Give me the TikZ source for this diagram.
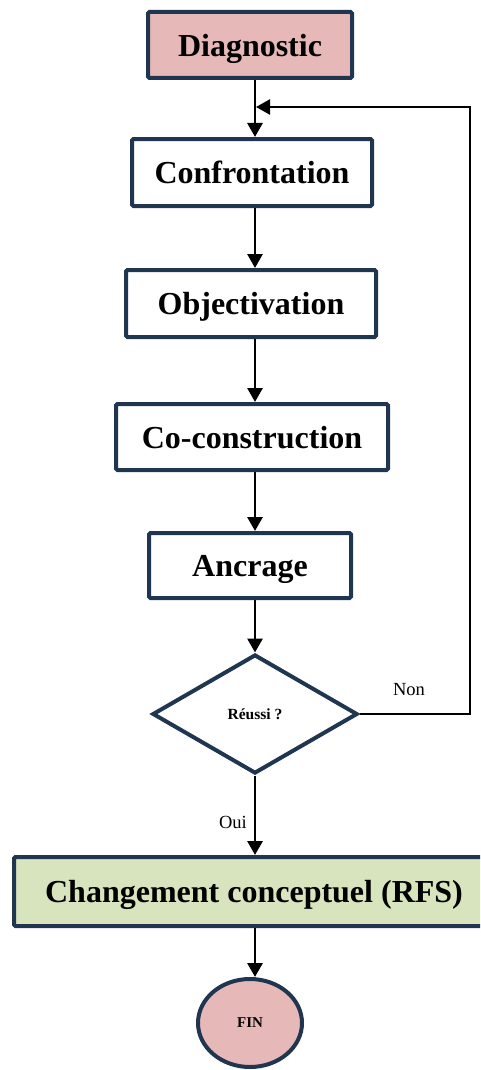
\documentclass[tikz,border=0pt]{standalone}
\usepackage{fontspec}
\setmainfont{Liberation Serif}
\usetikzlibrary{shapes.geometric,arrows.meta}
\definecolor{navy}{HTML}{1F3550}
\definecolor{pinkfill}{HTML}{E6B8B7}
\definecolor{greenfill}{HTML}{D7E4BD}
\tikzset{
  stepbox/.style={draw=navy, line width=4pt, rounded corners=1.5pt, fill=white, inner sep=0pt,
    text depth=0pt, font=\fontsize{32}{38}\selectfont\bfseries, text=black},
  decision/.style={draw=navy, line width=4pt, diamond, fill=white, inner sep=0pt,
    minimum width=205pt, minimum height=119pt, font=\fontsize{15.5}{18}\selectfont\bfseries},
  finnode/.style={draw=navy, line width=4pt, ellipse, fill=pinkfill, inner sep=0pt,
    minimum width=104pt, minimum height=88pt, font=\fontsize{15}{18}\selectfont\bfseries},
  flow/.style={draw=black, line width=2.9pt, -{Triangle[length=14pt,width=15pt]}},
  lab/.style={font=\fontsize{18.5}{22}\selectfont, text=black},
}
\begin{document}
\begin{tikzpicture}[x=1pt,y=-1pt]
\useasboundingbox (0,0) rectangle (480,1070);
\clip (0,0) rectangle (480,1070);
\fill[white] (0,0) rectangle (480,1070);
\coordinate (col) at (255,0);
\node[stepbox, fill=pinkfill, minimum width=204pt, minimum height=66pt] (diag) at (250,45) {Diagnostic};
\node[stepbox, minimum width=240pt, minimum height=67pt] (conf) at (252,172.5) {Confrontation};
\node[stepbox, minimum width=250pt, minimum height=67pt] (obj) at (251,303.5) {Objectivation};
\node[stepbox, minimum width=272pt, minimum height=66pt] (cocon) at (252,437) {Co-construction};
\node[stepbox, minimum width=202pt, minimum height=65pt] (anc) at (250,565.5) {Ancrage};
\node[decision] (dec) at (255,714) {Réussi ?};
\node[stepbox, fill=greenfill, minimum width=480pt, minimum height=69pt] (chg) at (254,891.5) {Changement conceptuel (RFS)};
\node[finnode] (fin) at (250,1023) {FIN};
\coordinate (merge) at (256,107);
\coordinate (cornerlow) at (470,714);
\coordinate (cornerhigh) at (470,107);
\draw[flow] (diag.south -| col) -- (conf.north -| col);
\draw[flow] (conf.south -| col) -- (obj.north -| col);
\draw[flow] (obj.south -| col) -- (cocon.north -| col);
\draw[flow] (cocon.south -| col) -- (anc.north -| col);
\draw[flow] (anc.south -| col) -- (dec.north);
\draw[flow] (dec.south) -- (chg.north -| dec.south);
\draw[flow] (chg.south -| col) -- (fin.north -| col);
\draw[flow, line width=2.3pt] (dec.east) -- (cornerlow) -- (cornerhigh) -- (merge);
\node[lab] (non) at (409,690) {Non};
\node[lab] (oui) at (233,822) {Oui};
\end{tikzpicture}
\end{document}
